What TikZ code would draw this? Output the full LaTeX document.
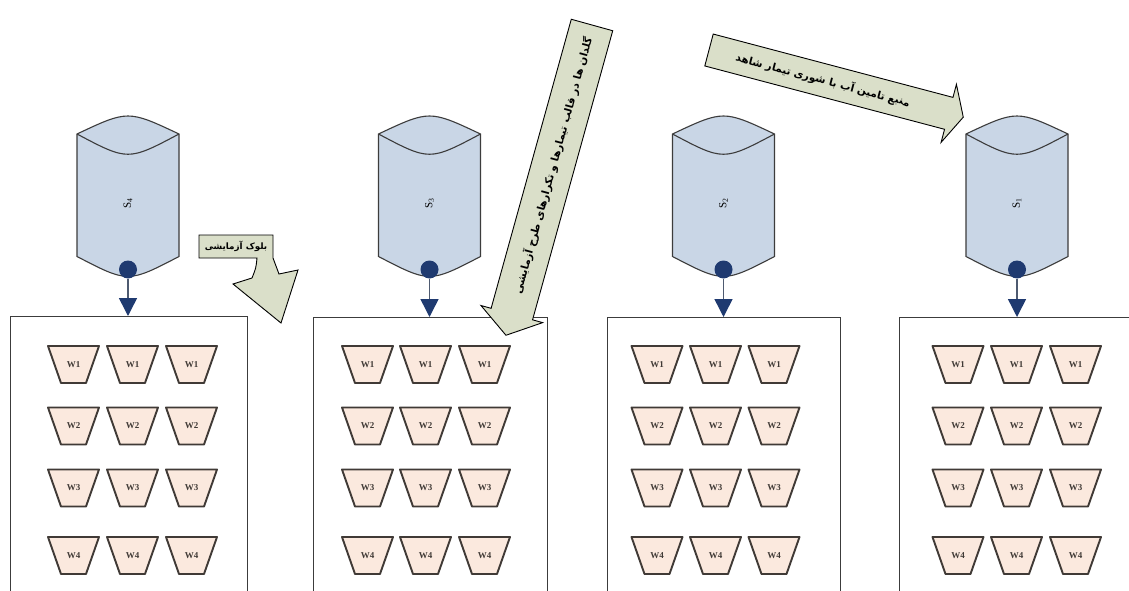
\documentclass[tikz,border=0pt]{standalone}
\usepackage{fontspec}
\setmainfont{Liberation Serif}
\newfontfamily\fa[Script=Arabic]{DejaVu Sans}
\TeXXeTstate=1
\usetikzlibrary{arrows.meta}
\definecolor{tankfill}{RGB}{201,214,230}
\definecolor{navy}{RGB}{31,58,112}
\definecolor{potfill}{RGB}{251,233,222}
\definecolor{potline}{RGB}{64,58,54}
\definecolor{callout}{RGB}{218,223,201}
\definecolor{edge}{RGB}{60,60,60}
\definecolor{pipe}{RGB}{78,90,112}
\tikzset{
  tank/.style={draw=edge, line width=1.1pt, fill=tankfill},
  tanklabel/.style={rotate=90, font=\fontsize{11}{11}\selectfont, inner sep=0},
  valve/.style={circle, fill=navy, minimum size=18pt, inner sep=0},
  blockbox/.style={draw=edge, line width=1.2pt, minimum width=237pt, minimum height=320pt, anchor=north west, inner sep=0},
  pot/.style={draw=potline, line width=1.9pt, fill=potfill, line join=round},
  potlabel/.style={font=\bfseries\fontsize{9}{9}\selectfont, text=potline, inner sep=0},
  flow/.style={draw=pipe, line width=1.5pt, -{Triangle[length=18pt,width=18pt,color=navy]}},
  bigarrow/.style={draw=black, line width=0.9pt, fill=callout, line join=miter},
  calltext/.style={font=\fa\bfseries\fontsize{10.5}{10.5}\selectfont, inner sep=0},
}
% a pot: trapezoid 51 wide at the rim, 25 at the base, 37 high, with its label
\newcommand\potat[4]{%
  \path[pot] (#2-25.5,#3-18.5) -- (#2+25.5,#3-18.5) -- (#2+12.5,#3+18.5) -- (#2-12.5,#3+18.5) -- cycle;
  \node[potlabel] (#1) at (#2,#3) {#4};}
\begin{document}
\begin{tikzpicture}[x=1pt,y=-1pt]
\useasboundingbox (0,0) rectangle (1129,591);
\clip (0,0) rectangle (1129,591);
\fill[white] (0,0) rectangle (1129,591);

% experimental blocks
\node[blockbox] (blk4) at (10,316) {};
\node[blockbox, minimum width=234pt] (blk3) at (313,317) {};
\node[blockbox, minimum width=233pt] (blk2) at (607,317) {};
\node[blockbox, minimum width=233pt] (blk1) at (899,317) {};

% water tanks with outlet valves
\foreach \s/\cx in {4/128, 3/429.5, 2/723.5, 1/1017} {
  \path[tank] (\cx-51,134) -- (\cx-51,256.5) .. controls (\cx,283) .. (\cx+51,256.5) -- (\cx+51,134)
     .. controls (\cx,110) .. (\cx-51,134) -- cycle;
  \draw[edge, line width=1.1pt] (\cx-51,134) .. controls (\cx,161) .. (\cx+51,134);
  \node[tanklabel] (lab\s) at (\cx,203) {S\textsubscript{\s}};
  \node[valve] (v\s) at (\cx,269.5) {};
  \draw[flow] (v\s) -- (v\s |- blk\s.north);
}

% pots (treatments W1..W4, three replicates per block)
\foreach \b/\xa/\xb/\xc in {4/73.5/132.5/191.5, 3/367.5/425.5/484.5, 2/657/715.5/774, 1/958/1016.5/1075.5} {
  \foreach \r/\y in {1/364.5, 2/426, 3/488, 4/555.5} {
    \potat{p\b-\r-1}{\xa}{\y}{W\r}
    \potat{p\b-\r-2}{\xb}{\y}{W\r}
    \potat{p\b-\r-3}{\xc}{\y}{W\r}
  }
}

% callout: experimental block
\path[bigarrow] (199,235) -- (273,235) -- (273,258) .. controls (276,266) .. (279,274)
  -- (298,270) -- (281,323) -- (233,284) -- (252,278) .. controls (256,268) .. (257,258)
  -- (199,258) -- cycle;
\node[calltext, font=\fa\bfseries\fontsize{8.8}{8.8}\selectfont] (blocknote) at (236,246) {\beginR بلوک آزمایشی\endR};

% callout: pots arranged by treatment and replicate
\begin{scope}[shift={(592,25)}, rotate=254.5]
  \path[bigarrow] (0,-21.5) -- (300,-21.5) -- (300,-32) -- (322,0) -- (300,32) -- (300,21.5) -- (0,21.5) -- cycle;
  \node[calltext, transform shape, rotate=180] (potnote) at (146,0)
    {\beginR گلدان ها در قالب تیمارها و تکرارهای طرح آزمایشی\endR};
\end{scope}

% callout: water source of the control treatment
\begin{scope}[shift={(709,50)}, rotate=-14.8]
  \path[bigarrow] (0,-16.5) -- (248,-16.5) -- (248,-30) -- (263,0) -- (248,30) -- (248,16.5) -- (0,16.5) -- cycle;
  \node[calltext, transform shape] (srcnote) at (118,0)
    {\beginR منبع تامین آب با شوری تیمار شاهد\endR};
\end{scope}
\end{tikzpicture}
\end{document}
